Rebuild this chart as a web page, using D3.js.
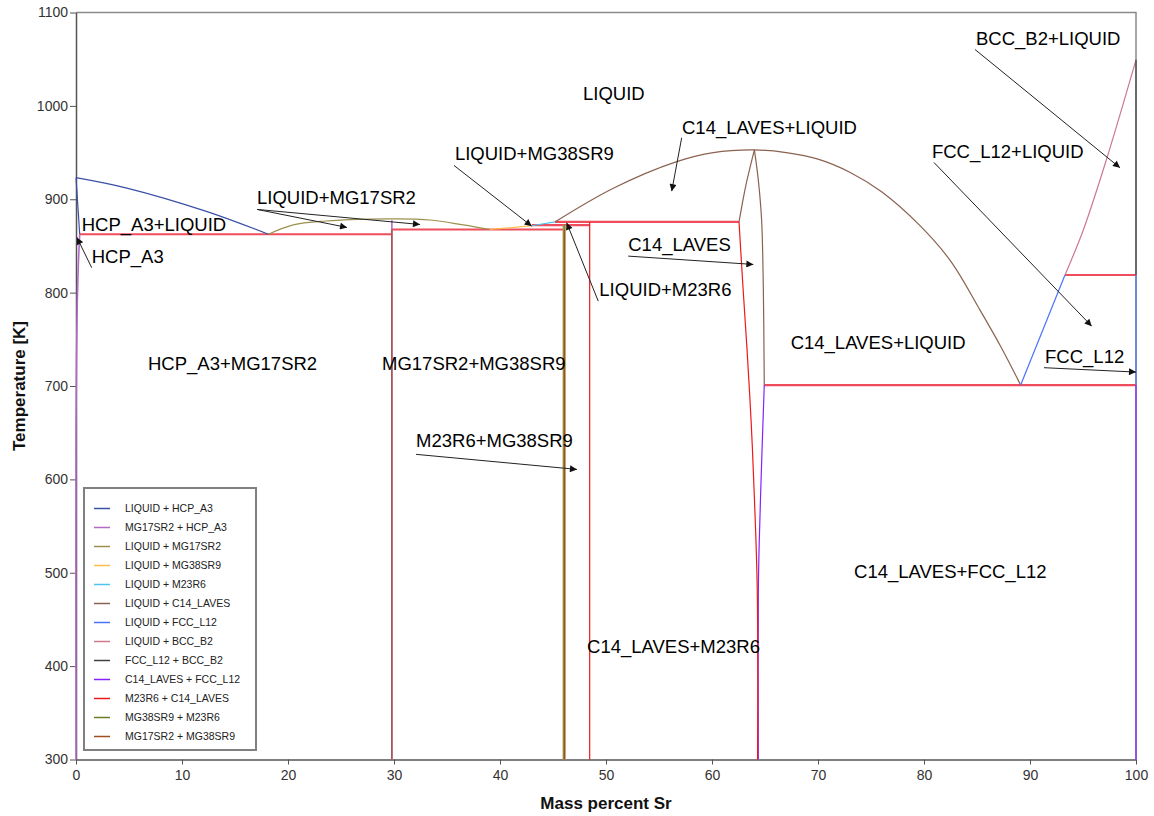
<!DOCTYPE html>
<html>
<head>
<meta charset="utf-8">
<script src="https://cdn.jsdelivr.net/npm/d3@7"></script>
<style>
  body { margin: 0; background: #fff; }
  svg { display: block; font-family: "Liberation Sans", Arial, sans-serif; }
</style>
</head>
<body>
<svg id="chart" width="1154" height="816"></svg>
<script>
// ---- Axis ticks ----
const xTicks = [0, 10, 20, 30, 40, 50, 60, 70, 80, 90, 100];
const yTicks = [300, 400, 500, 600, 700, 800, 900, 1000, 1100];

// ---- Phase boundaries: each series is a list of polylines of [mass % Sr, T (K)] ----
const liqHcp = [
  [[0, 923.2], [4.8, 912], [12.3, 887], [18.15, 862.5]],
  [[0, 923.2], [0.35, 862.5]]
];
const mg17Hcp = [
  [[0.35, 862.5], [0.22, 830], [0.12, 790], [0.05, 730], [0, 650], [0, 300]],
  [[29.8, 300], [29.8, 877.5]]
];
const liqMg17 = [
  [[18.15, 862.5], [20.5, 872.5], [23.6, 876.7], [27, 878.5], [29.8, 879], [33.4, 877.8], [36.54, 872.5], [39.06, 867.6]]
];
const liqMg38 = [
  [[39.06, 867.6], [41, 869.5], [43.0, 871.6]]
];
const liqM23 = [
  [[43.0, 871.6], [45.19, 875.7]]
];
const liqC14 = [
  [[45.19, 875.7], [50.69, 911.8], [56.67, 940.3], [60.12, 950], [64.0, 952.8], [67, 950], [70, 943],
   [73, 929], [76, 908], [79.6, 872], [82.5, 834], [85.3, 781], [87.3, 741], [89.12, 701]],
  [[62.55, 875.7], [63.2, 915], [64.0, 952.8]],
  [[64.0, 952.8], [64.37, 920.5], [64.68, 877.8], [64.84, 806.3], [64.93, 701]]
];
const liqFcc = [
  [[89.12, 701], [93.3, 818.9]],
  [[100, 701], [100, 818.9]]
];
const liqBcc = [
  [[93.3, 818.9], [95.03, 867.1], [97.2, 942.1], [100, 1049.3]]
];
const fccBcc = [
  [[100, 818.9], [100, 1049.3]]
];
const c14Fcc = [
  [[64.93, 701], [64.69, 620.6], [64.45, 530], [64.37, 478], [64.37, 300]],
  [[100, 300], [100, 701]]
];
const m23C14 = [
  [[62.55, 875.7], [62.9, 810], [63.3, 740], [63.7, 660], [64.0, 580], [64.27, 482], [64.3, 300]],
  [[48.46, 300], [48.46, 875.7]]
];
const mg38M23 = [
  [[46.06, 300], [46.06, 872.2]]
];
const mg17Mg38 = [
  [[29.8, 300], [29.8, 867.6]],
  [[46.06, 300], [46.06, 867.6]]
];

// ---- Invariant reactions: [from % Sr, to % Sr, T (K)] ----
const invariants = [
  [0.35, 29.8, 862.5],
  [29.8, 46.06, 867.6],
  [43.0, 48.46, 872.2],
  [45.19, 62.55, 875.7],
  [64.93, 100, 701],
  [93.3, 100, 818.9]
];

// ---- Legend entries ----
const seriesNames = [
  "LIQUID + HCP_A3", "MG17SR2 + HCP_A3", "LIQUID + MG17SR2", "LIQUID + MG38SR9",
  "LIQUID + M23R6", "LIQUID + C14_LAVES", "LIQUID + FCC_L12", "LIQUID + BCC_B2",
  "FCC_L12 + BCC_B2", "C14_LAVES + FCC_L12", "M23R6 + C14_LAVES", "MG38SR9 + M23R6",
  "MG17SR2 + MG38SR9"
];
const seriesData = [liqHcp, mg17Hcp, liqMg17, liqMg38, liqM23, liqC14, liqFcc, liqBcc,
                    fccBcc, c14Fcc, m23C14, mg38M23, mg17Mg38];

// ---- Region labels and pointers ----
const regionLabels = [
  { text: "LIQUID", x: 47.83, t: 1006 },
  { text: "HCP_A3+LIQUID", x: 0.54, t: 866 },
  { text: "HCP_A3", x: 1.48, t: 831.3 },
  { text: "LIQUID+MG17SR2", x: 17.08, t: 894.4 },
  { text: "LIQUID+MG38SR9", x: 35.75, t: 941.9 },
  { text: "C14_LAVES+LIQUID", x: 57.17, t: 970.4 },
  { text: "C14_LAVES", x: 52.1, t: 844.4 },
  { text: "LIQUID+M23R6", x: 49.37, t: 796.3 },
  { text: "C14_LAVES+LIQUID", x: 67.42, t: 739.2 },
  { text: "FCC_L12+LIQUID", x: 80.75, t: 944.4 },
  { text: "BCC_B2+LIQUID", x: 84.9, t: 1065.7 },
  { text: "FCC_L12", x: 91.42, t: 725 },
  { text: "HCP_A3+MG17SR2", x: 6.79, t: 716.7 },
  { text: "MG17SR2+MG38SR9", x: 28.87, t: 716.7 },
  { text: "M23R6+MG38SR9", x: 32.08, t: 634.3 },
  { text: "C14_LAVES+M23R6", x: 48.21, t: 413.7 },
  { text: "C14_LAVES+FCC_L12", x: 73.4, t: 494 }
];
const pointers = [
  { from: [1.48, 826.7], to: [0.09, 859.1] },
  { from: [17.08, 889.1], to: [25.57, 869.8] },
  { from: [17.08, 889.1], to: [32.45, 873.0] },
  { from: [35.66, 936.2], to: [42.99, 871.2] },
  { from: [57.14, 965.8], to: [56.2, 908.7] },
  { from: [52.1, 839.1], to: [63.9, 830.2] },
  { from: [49.27, 790.9], to: [46.29, 874.8] },
  { from: [80.94, 939.4], to: [95.82, 764.1] },
  { from: [84.81, 1060.4], to: [98.49, 933.7] },
  { from: [91.32, 719.6], to: [100, 714.9] },
  { from: [32.08, 626.8], to: [47.26, 610.7] }
];

// ---- Styles ----
const seriesColors = {
  "LIQUID + HCP_A3": "#3a50a6",
  "MG17SR2 + HCP_A3": "#b36ac6",
  "LIQUID + MG17SR2": "#9c904e",
  "LIQUID + MG38SR9": "#ffbc48",
  "LIQUID + M23R6": "#4cc4f0",
  "LIQUID + C14_LAVES": "#8a6250",
  "LIQUID + FCC_L12": "#4a72ff",
  "LIQUID + BCC_B2": "#cc7890",
  "FCC_L12 + BCC_B2": "#404040",
  "C14_LAVES + FCC_L12": "#8422ff",
  "M23R6 + C14_LAVES": "#ee1818",
  "MG38SR9 + M23R6": "#6a7d22",
  "MG17SR2 + MG38SR9": "#a24c22"
};

const plot = { left: 76, right: 1136, top: 12.5, bottom: 759.5 };

const svg = d3.select("#chart");
const x = d3.scaleLinear().domain([0, 100]).range([plot.left, plot.right]);
const y = d3.scaleLinear().domain([300, 1100]).range([plot.bottom, plot.top]);

// Frame (top and right edges)
svg.append("path")
  .attr("d", `M${plot.left},${plot.top}H${plot.right}V${plot.bottom}`)
  .attr("fill", "none").attr("stroke", "#8a8a8a").attr("stroke-width", 1.5);

// Axes
const xAxis = svg.append("g")
  .attr("transform", `translate(0,${plot.bottom})`)
  .call(d3.axisBottom(x).tickValues(xTicks).tickFormat(d3.format("d"))
    .tickSize(5).tickSizeOuter(0).tickPadding(6));
const yAxis = svg.append("g")
  .attr("transform", `translate(${plot.left},0)`)
  .call(d3.axisLeft(y).tickValues(yTicks).tickFormat(d3.format("d"))
    .tickSize(6).tickSizeOuter(0).tickPadding(2));
[xAxis, yAxis].forEach(g => {
  g.select(".domain").attr("stroke", "#555").attr("stroke-width", 1.5);
  g.selectAll(".tick line").attr("stroke", "#555");
  g.selectAll(".tick text").attr("fill", "#333").style("font-size", "14px")
    .style("font-family", "'Liberation Sans', Arial, sans-serif");
});

// Axis titles
svg.append("text")
  .attr("x", (plot.left + plot.right) / 2).attr("y", 809)
  .attr("text-anchor", "middle").attr("font-weight", "bold").attr("font-size", 17)
  .attr("fill", "#111").text("Mass percent Sr");
svg.append("text")
  .attr("transform", `translate(25,${(plot.top + plot.bottom) / 2}) rotate(-90)`)
  .attr("text-anchor", "middle").attr("font-weight", "bold").attr("font-size", 17)
  .attr("fill", "#111").text("Temperature [K]");

const line = d3.line()
  .x(d => x(d[0])).y(d => y(d[1]))
  .curve(d3.curveCatmullRom.alpha(0.5));

// Invariant reaction isotherms
svg.append("g").selectAll("path").data(invariants).join("path")
  .attr("d", d => line([[d[0], d[2]], [d[1], d[2]]]))
  .attr("fill", "none").attr("stroke", "#f04c5c").attr("stroke-width", 2.2);

// Phase boundaries
const gSeries = svg.append("g");
seriesNames.forEach((name, i) => {
  const g = gSeries.append("g");
  if (name === "MG38SR9 + M23R6") {
    // wide pale band under the MG38SR9 compound line
    g.selectAll("path.halo").data(seriesData[i]).join("path")
      .attr("class", "halo").attr("d", line)
      .attr("fill", "none").attr("stroke", "#b4a866").attr("stroke-width", 3.4);
  }
  g.selectAll("path.edge").data(seriesData[i]).join("path")
    .attr("class", "edge").attr("d", line)
    .attr("fill", "none")
    .attr("stroke", seriesColors[name])
    .attr("stroke-width", name === "MG17SR2 + HCP_A3" ? 1.6 : (name === "MG38SR9 + M23R6" ? 1 : 1.2));
});

// Pointer arrows
svg.append("defs").append("marker")
  .attr("id", "arrowhead").attr("viewBox", "0 0 10 10")
  .attr("refX", 10).attr("refY", 5)
  .attr("markerWidth", 9).attr("markerHeight", 7)
  .attr("markerUnits", "userSpaceOnUse").attr("orient", "auto")
  .append("path").attr("d", "M0,0L10,5L0,10Z").attr("fill", "#111");

svg.append("g").selectAll("line").data(pointers).join("line")
  .attr("x1", d => x(d.from[0])).attr("y1", d => y(d.from[1]))
  .attr("x2", d => x(d.to[0])).attr("y2", d => y(d.to[1]))
  .attr("stroke", "#222").attr("stroke-width", 1)
  .attr("marker-end", "url(#arrowhead)");

// Region labels
svg.append("g").selectAll("text").data(regionLabels).join("text")
  .attr("x", d => x(d.x)).attr("y", d => y(d.t))
  .attr("font-size", 18.5).attr("fill", "#000")
  .text(d => d.text);

// Legend
const legend = svg.append("g").attr("transform", "translate(84,488)");
legend.append("rect")
  .attr("width", 172).attr("height", 262)
  .attr("fill", "#fff").attr("stroke", "#808080").attr("stroke-width", 2);
const rows = legend.selectAll("g.row").data(seriesNames).join("g")
  .attr("class", "row")
  .attr("transform", (d, i) => `translate(0,${20.5 + i * 19})`);
rows.append("line")
  .attr("x1", 10).attr("x2", 26)
  .attr("stroke", d => seriesColors[d]).attr("stroke-width", 1.5);
rows.append("text")
  .attr("x", 41).attr("dy", "0.35em")
  .attr("font-size", 10.5).attr("fill", "#222")
  .text(d => d);
</script>
</body>
</html>
